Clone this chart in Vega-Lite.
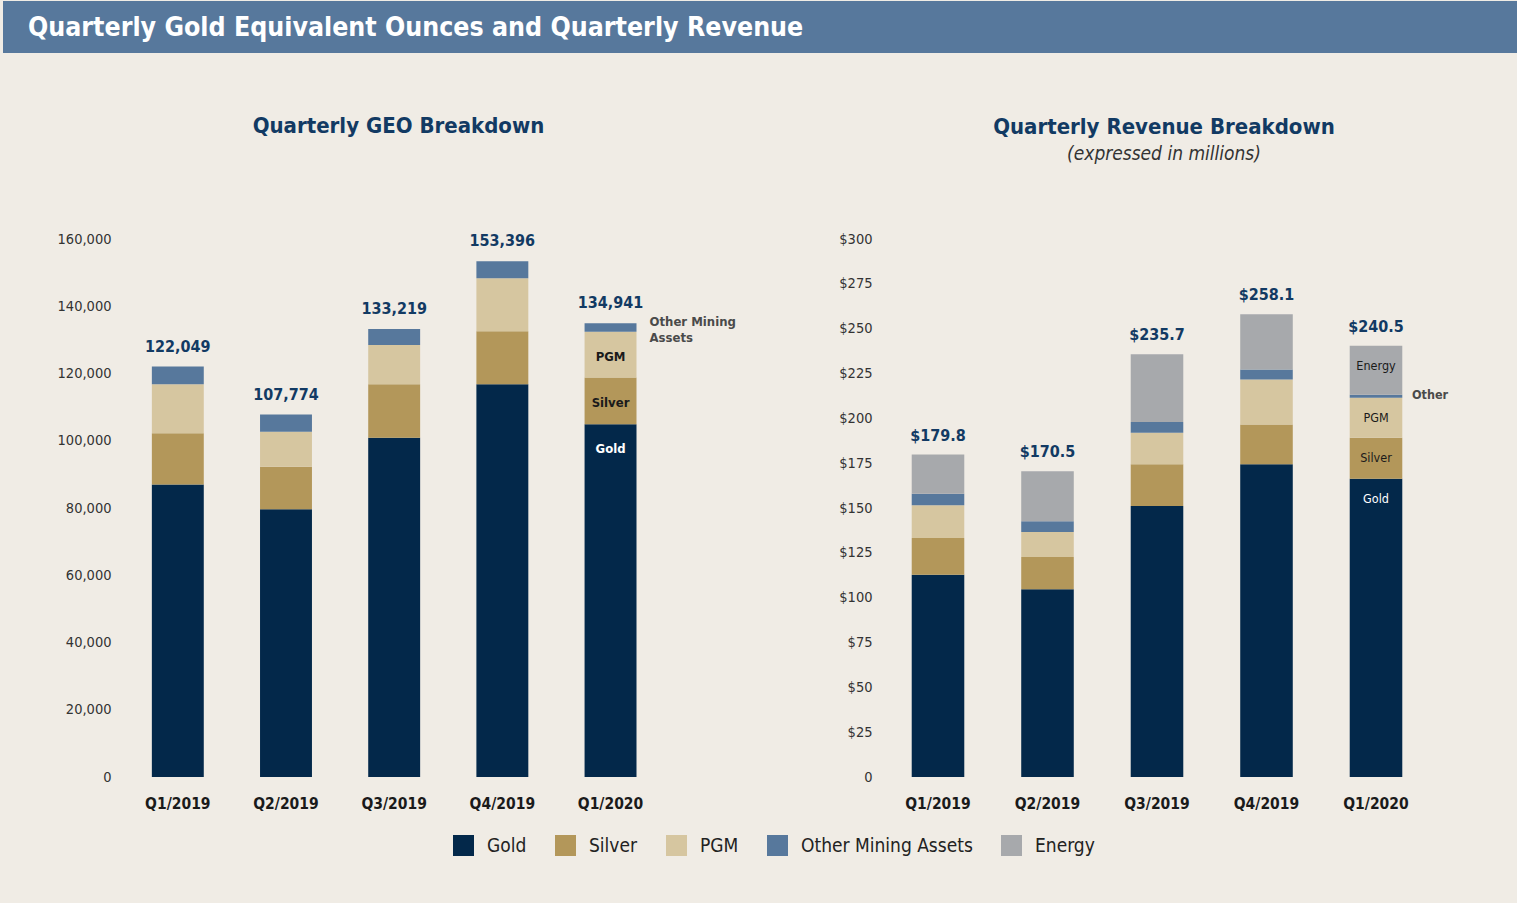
{
  "$schema": "https://vega.github.io/schema/vega-lite/v6.json",
  "background": "#f0ece5",
  "padding": {"left": 3, "top": 1, "right": 0, "bottom": 47},
  "columns": 1,
  "align": "none",
  "spacing": 62,
  "config": {
    "font": "'DejaVu Sans Condensed', 'Liberation Sans Narrow', sans-serif",
    "view": {"stroke": null},
    "axis": {"grid": false, "domain": false, "ticks": false, "title": null},
    "title": {"color": "#123a63", "fontSize": 22, "fontWeight": "bold", "anchor": "middle"}
  },
  "datasets": {
    "geo": [
      {"quarter": "Q1/2019", "metal": "Gold", "geo": 87000},
      {"quarter": "Q1/2019", "metal": "Silver", "geo": 15200},
      {"quarter": "Q1/2019", "metal": "PGM", "geo": 14600},
      {"quarter": "Q1/2019", "metal": "Other Mining Assets", "geo": 5249},
      {"quarter": "Q2/2019", "metal": "Gold", "geo": 79600},
      {"quarter": "Q2/2019", "metal": "Silver", "geo": 12700},
      {"quarter": "Q2/2019", "metal": "PGM", "geo": 10400},
      {"quarter": "Q2/2019", "metal": "Other Mining Assets", "geo": 5074},
      {"quarter": "Q3/2019", "metal": "Gold", "geo": 100900},
      {"quarter": "Q3/2019", "metal": "Silver", "geo": 15900},
      {"quarter": "Q3/2019", "metal": "PGM", "geo": 11700},
      {"quarter": "Q3/2019", "metal": "Other Mining Assets", "geo": 4719},
      {"quarter": "Q4/2019", "metal": "Gold", "geo": 116800},
      {"quarter": "Q4/2019", "metal": "Silver", "geo": 15800},
      {"quarter": "Q4/2019", "metal": "PGM", "geo": 15700},
      {"quarter": "Q4/2019", "metal": "Other Mining Assets", "geo": 5096},
      {"quarter": "Q1/2020", "metal": "Gold", "geo": 104900},
      {"quarter": "Q1/2020", "metal": "Silver", "geo": 13900},
      {"quarter": "Q1/2020", "metal": "PGM", "geo": 13600},
      {"quarter": "Q1/2020", "metal": "Other Mining Assets", "geo": 2541}
    ],
    "rev": [
      {"quarter": "Q1/2019", "metal": "Gold", "rev": 112.8},
      {"quarter": "Q1/2019", "metal": "Silver", "rev": 20.5},
      {"quarter": "Q1/2019", "metal": "PGM", "rev": 18.2},
      {"quarter": "Q1/2019", "metal": "Other Mining Assets", "rev": 6.5},
      {"quarter": "Q1/2019", "metal": "Energy", "rev": 21.8},
      {"quarter": "Q2/2019", "metal": "Gold", "rev": 104.7},
      {"quarter": "Q2/2019", "metal": "Silver", "rev": 18.0},
      {"quarter": "Q2/2019", "metal": "PGM", "rev": 13.9},
      {"quarter": "Q2/2019", "metal": "Other Mining Assets", "rev": 6.0},
      {"quarter": "Q2/2019", "metal": "Energy", "rev": 27.9},
      {"quarter": "Q3/2019", "metal": "Gold", "rev": 151.1},
      {"quarter": "Q3/2019", "metal": "Silver", "rev": 23.3},
      {"quarter": "Q3/2019", "metal": "PGM", "rev": 17.6},
      {"quarter": "Q3/2019", "metal": "Other Mining Assets", "rev": 6.0},
      {"quarter": "Q3/2019", "metal": "Energy", "rev": 37.7},
      {"quarter": "Q4/2019", "metal": "Gold", "rev": 174.4},
      {"quarter": "Q4/2019", "metal": "Silver", "rev": 22.1},
      {"quarter": "Q4/2019", "metal": "PGM", "rev": 25.1},
      {"quarter": "Q4/2019", "metal": "Other Mining Assets", "rev": 5.7},
      {"quarter": "Q4/2019", "metal": "Energy", "rev": 30.8},
      {"quarter": "Q1/2020", "metal": "Gold", "rev": 166.3},
      {"quarter": "Q1/2020", "metal": "Silver", "rev": 22.9},
      {"quarter": "Q1/2020", "metal": "PGM", "rev": 22.3},
      {"quarter": "Q1/2020", "metal": "Other Mining Assets", "rev": 1.7},
      {"quarter": "Q1/2020", "metal": "Energy", "rev": 27.3}
    ]
  },
  "concat": [
    {
      "width": 1514,
      "height": 52,
      "data": {"values": [{"banner": "Quarterly Gold Equivalent Ounces and Quarterly Revenue"}]},
      "layer": [
        {"mark": {"type": "rect", "color": "#57789c"}, "encoding": {}},
        {
          "mark": {"type": "text", "align": "left", "baseline": "middle", "dx": 25, "dy": 1, "color": "#ffffff", "fontSize": 26.5, "fontWeight": 600},
          "encoding": {
            "x": {"field": "banner", "type": "nominal", "axis": null, "scale": {"type": "point", "padding": 0, "align": 0}},
            "text": {"field": "banner"}
          }
        }
      ]
    },
    {
      "hconcat": [
        {
          "width": 701,
          "height": 538,
          "title": {"text": "Quarterly GEO Breakdown", "offset": 93, "dx": 45},
          "data": {"name": "geo"},
          "transform": [{"calculate": "indexof(['Gold','Silver','PGM','Other Mining Assets','Energy'], datum.metal)", "as": "ord"}],
          "encoding": {
            "x": {"field": "quarter", "type": "nominal", "sort": null,
              "scale": {"paddingInner": 0.52, "paddingOuter": 1, "align": 0.688},
              "axis": {"labelAngle": 0, "labelFontSize": 15.5, "labelFontWeight": "bold", "labelColor": "#1a1a1a", "labelPadding": 19}}
          },
          "layer": [
            {
              "mark": {"type": "bar"},
              "encoding": {
                "y": {"field": "geo", "type": "quantitative", "stack": "zero",
                  "scale": {"domain": [0, 160000]},
                  "axis": {"values": [0, 20000, 40000, 60000, 80000, 100000, 120000, 140000, 160000], "format": ",d", "labelFontSize": 14.5, "labelColor": "#333333", "labelPadding": 14, "offset": -122}},
                "color": {"field": "metal", "type": "nominal", "title": null,
                  "scale": {"domain": ["Gold", "Silver", "PGM", "Other Mining Assets", "Energy"], "range": ["#03284a", "#b3975a", "#d6c6a0", "#57789c", "#a7a9ac"]},
                  "legend": {"orient": "none", "direction": "horizontal", "legendX": 450, "legendY": 834, "symbolType": "square", "symbolSize": 441, "symbolStrokeWidth": 0, "symbolOpacity": 1, "labelFontSize": 19, "labelColor": "#222222", "labelOffset": 13, "labelLimit": 400, "columnPadding": 28}},
                "order": {"field": "ord"}
              }
            },
            {
              "mark": {"type": "text", "fontSize": 16, "fontWeight": "bold", "color": "#123a63", "baseline": "alphabetic", "dy": -15},
              "encoding": {
                "y": {"aggregate": "sum", "field": "geo", "type": "quantitative"},
                "text": {"aggregate": "sum", "field": "geo", "type": "quantitative", "format": ",d"}
              }
            },
            {
              "transform": [{"filter": "datum.quarter === 'Q1/2020'"}],
              "mark": {"type": "text", "fontSize": 13, "fontWeight": "bold", "baseline": "middle", "dy": 25},
              "encoding": {
                "y": {"field": "geo", "type": "quantitative", "stack": "zero"},
                "detail": {"field": "metal"},
                "order": {"field": "ord"},
                "text": {"condition": {"test": "datum.metal === 'Other Mining Assets'", "value": ""}, "field": "metal"},
                "color": {"condition": {"test": "datum.metal === 'Gold'", "value": "#ffffff"}, "value": "#1a1a1a"}
              }
            },
            {
              "transform": [{"filter": "datum.quarter === 'Q1/2020'"}],
              "mark": {"type": "text", "fontSize": 13, "fontWeight": "bold", "align": "left", "baseline": "middle", "dx": 39, "dy": -1, "color": "#4a4a4a", "lineBreak": "\n", "lineHeight": 16},
              "encoding": {
                "y": {"field": "geo", "type": "quantitative", "stack": "zero"},
                "detail": {"field": "metal"},
                "order": {"field": "ord"},
                "text": {"condition": {"test": "datum.metal === 'Other Mining Assets'", "value": "Other Mining\nAssets"}, "value": ""}
              }
            }
          ]
        },
        {
          "width": 544,
          "height": 538,
          "title": {"text": "Quarterly Revenue Breakdown", "subtitle": "(expressed in millions)", "subtitleFontStyle": "italic", "subtitleFontSize": 19, "subtitleColor": "#333333", "subtitlePadding": 6, "offset": 66, "dx": 7},
          "data": {"name": "rev"},
          "transform": [{"calculate": "indexof(['Gold','Silver','PGM','Other Mining Assets','Energy'], datum.metal)", "as": "ord"}],
          "encoding": {
            "x": {"field": "quarter", "type": "nominal", "sort": null,
              "scale": {"paddingInner": 0.52, "paddingOuter": 0.244},
              "axis": {"labelAngle": 0, "labelFontSize": 15.5, "labelFontWeight": "bold", "labelColor": "#1a1a1a", "labelPadding": 19}}
          },
          "layer": [
            {
              "mark": {"type": "bar"},
              "encoding": {
                "y": {"field": "rev", "type": "quantitative", "stack": "zero",
                  "scale": {"domain": [0, 300]},
                  "axis": {"values": [0, 25, 50, 75, 100, 125, 150, 175, 200, 225, 250, 275, 300], "labelExpr": "datum.value === 0 ? '0' : '$' + datum.value", "labelFontSize": 14.5, "labelColor": "#333333", "labelPadding": 13}},
                "color": {"field": "metal", "type": "nominal", "title": null,
                  "scale": {"domain": ["Gold", "Silver", "PGM", "Other Mining Assets", "Energy"], "range": ["#03284a", "#b3975a", "#d6c6a0", "#57789c", "#a7a9ac"]}},
                "order": {"field": "ord"}
              }
            },
            {
              "mark": {"type": "text", "fontSize": 16, "fontWeight": "bold", "color": "#123a63", "baseline": "alphabetic", "dy": -14},
              "encoding": {
                "y": {"aggregate": "sum", "field": "rev", "type": "quantitative"},
                "text": {"aggregate": "sum", "field": "rev", "type": "quantitative", "format": "$.1f"}
              }
            },
            {
              "transform": [{"filter": "datum.quarter === 'Q1/2020'"}],
              "mark": {"type": "text", "fontSize": 12.5, "baseline": "middle", "dy": 20},
              "encoding": {
                "y": {"field": "rev", "type": "quantitative", "stack": "zero"},
                "detail": {"field": "metal"},
                "order": {"field": "ord"},
                "text": {"condition": {"test": "datum.metal === 'Other Mining Assets'", "value": ""}, "field": "metal"},
                "color": {"condition": {"test": "datum.metal === 'Gold'", "value": "#ffffff"}, "value": "#1a1a1a"}
              }
            },
            {
              "transform": [{"filter": "datum.quarter === 'Q1/2020'"}],
              "mark": {"type": "text", "fontSize": 12.5, "fontWeight": "bold", "align": "left", "baseline": "middle", "dx": 36, "dy": 0, "color": "#4a4a4a"},
              "encoding": {
                "y": {"field": "rev", "type": "quantitative", "stack": "zero"},
                "detail": {"field": "metal"},
                "order": {"field": "ord"},
                "text": {"condition": {"test": "datum.metal === 'Other Mining Assets'", "value": "Other"}, "value": ""}
              }
            }
          ]
        }
      ],
      "spacing": 181,
      "bounds": "flush"
    }
  ]
}
